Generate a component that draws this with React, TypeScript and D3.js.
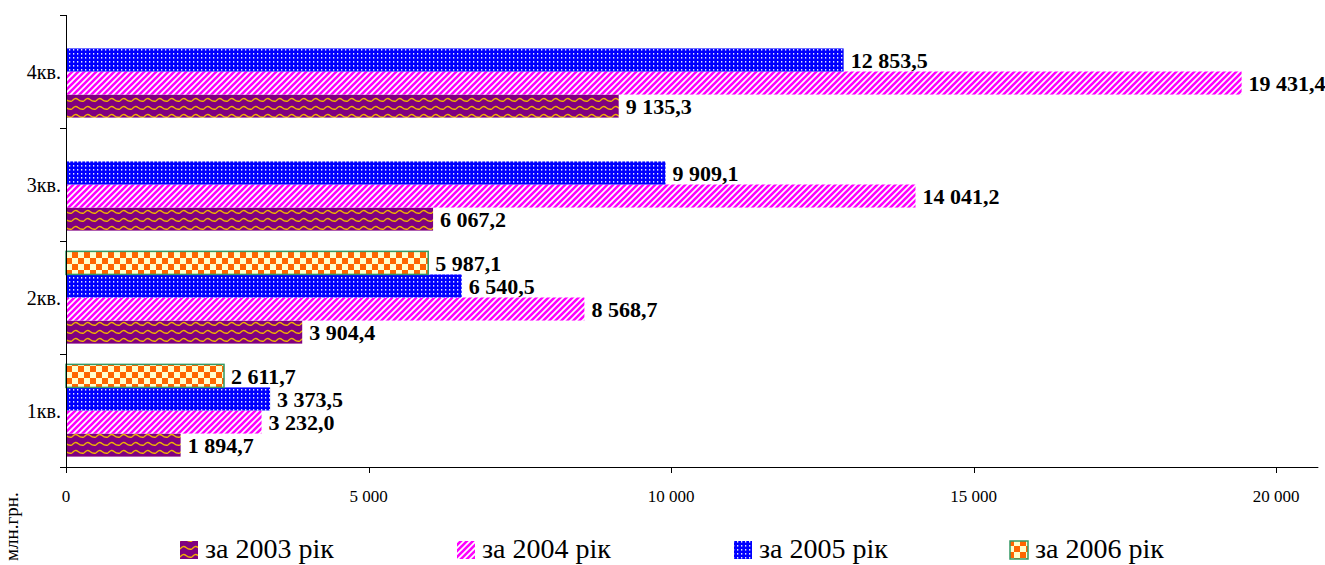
import * as d3 from 'd3'

const quarters = ['1кв.', '2кв.', '3кв.', '4кв.']
const years = ['2003', '2004', '2005', '2006']
const values2003 = [1894.7, 3904.4, 6067.2, 9135.3]
const values2004 = [3232.0, 8568.7, 14041.2, 19431.4]
const values2005 = [3373.5, 6540.5, 9909.1, 12853.5]
const values2006: (number | null)[] = [2611.7, 5987.1, null, null]
const xTicks = [0, 5000, 10000, 15000, 20000]

const seriesValues = [values2003, values2004, values2005, values2006]
const patternIds = ['pat2003', 'pat2004', 'pat2005', 'pat2006']
const legendX = [180, 457, 734, 1010]

const SERIF = 'Liberation Serif, Times New Roman, serif'

const fmt = (v: number) => {
  const [int, dec] = v.toFixed(1).split('.')
  const withSpaces = int.replace(/\B(?=(\d{3})+(?!\d))/g, ' ')
  return `${withSpaces},${dec}`
}
const fmtTick = (v: number) => String(v).replace(/\B(?=(\d{3})+(?!\d))/g, ' ')

export default function App() {
  const width = 1325
  const height = 565

  const x = d3.scaleLinear().domain([0, 20000]).range([66, 1276])
  const y = d3.scaleBand().domain([...quarters].reverse()).range([15, 467])
  const inner = d3.scaleBand().domain([...years].reverse()).range([0, y.bandwidth()])
    .paddingOuter(0.45).align(0.5)
  const bh = inner.bandwidth()

  const yEdges = [...quarters.map(q => y(q) || 0), 467]

  return (
    <svg
      width={width}
      height={height}
      style={{ position: 'absolute', left: 0, top: 0, background: '#fff' }}
    >
      <defs>
        {/* 2003: purple with gold waves */}
        <pattern id="pat2003" patternUnits="userSpaceOnUse" width={12} height={8}>
          <rect width={12} height={8} fill="#800080" />
          <path d="M0,5 Q3,1 6,3.5 T12,5" fill="none" stroke="#f0b400" strokeWidth={1.4} />
        </pattern>
        {/* 2004: magenta diagonal stripes */}
        <pattern id="pat2004" patternUnits="userSpaceOnUse" width={6} height={6}>
          <rect width={6} height={6} fill="#ffffff" />
          <path d="M-1,7 L7,-1 M-4,4 L2,-2 M4,8 L10,2" stroke="#ff00ff" strokeWidth={2.6} />
        </pattern>
        {/* 2005: blue with light dots */}
        <pattern id="pat2005" patternUnits="userSpaceOnUse" width={4} height={4}>
          <rect width={4} height={4} fill="#0000ff" />
          <rect x={1} y={1} width={1.3} height={1.6} fill="#e6e6ff" />
        </pattern>
        {/* 2006: orange checkerboard */}
        <pattern id="pat2006" patternUnits="userSpaceOnUse" width={12} height={12}>
          <rect width={12} height={12} fill="#ffffcc" />
          <rect width={6} height={6} fill="#ff6600" />
          <rect x={6} y={6} width={6} height={6} fill="#ff6600" />
        </pattern>
      </defs>

      <g>
        {quarters.map((q, qi) =>
          years.map((yr, si) => {
            const v = seriesValues[si][qi]
            if (v == null) return null
            const by = (y(q) || 0) + (inner(yr) || 0)
            return (
              <g key={q + yr}>
                <rect
                  x={x(0)}
                  y={by}
                  width={x(v) - x(0)}
                  height={bh}
                  fill={`url(#${patternIds[si]})`}
                  stroke={si === 3 ? '#339966' : 'none'}
                  strokeWidth={si === 3 ? 1.5 : 0}
                />
                <text
                  x={x(v) + 7}
                  y={by + bh / 2 + 8}
                  fontFamily={SERIF}
                  fontWeight="bold"
                  fontSize={22}
                  fill="#000"
                >
                  {fmt(v)}
                </text>
              </g>
            )
          })
        )}
      </g>

      {/* y axis */}
      <g stroke="#000" strokeWidth={1}>
        <line x1={66.5} x2={66.5} y1={15} y2={467} />
        {yEdges.map(t => (
          <line key={t} x1={60} x2={66.5} y1={Math.round(t) + 0.5} y2={Math.round(t) + 0.5} />
        ))}
      </g>
      {quarters.map(q => (
        <text
          key={q}
          x={61}
          y={(y(q) || 0) + y.bandwidth() / 2 + 7}
          textAnchor="end"
          fontFamily={SERIF}
          fontSize={20}
        >
          {q}
        </text>
      ))}

      {/* x axis */}
      <g stroke="#000">
        <line x1={66} x2={x(20700)} y1={467.5} y2={467.5} />
        {xTicks.map(t => (
          <line key={t} x1={Math.round(x(t)) + 0.5} x2={Math.round(x(t)) + 0.5} y1={467} y2={473} />
        ))}
      </g>
      {xTicks.map(t => (
        <text key={t} x={x(t)} y={502} textAnchor="middle" fontFamily={SERIF} fontSize={17}>
          {fmtTick(t)}
        </text>
      ))}

      <text transform="translate(18,561) rotate(-90)" fontFamily={SERIF} fontSize={19}>
        млн.грн.
      </text>

      {/* legend */}
      {years.map((yr, i) => (
        <g key={yr}>
          <rect
            x={legendX[i]}
            y={541}
            width={18}
            height={18}
            fill={`url(#${patternIds[i]})`}
            stroke={i === 3 ? '#339966' : 'none'}
            strokeWidth={i === 3 ? 1.5 : 0}
          />
          <text x={legendX[i] + 25} y={558} fontFamily={SERIF} fontSize={28}>
            {`за ${yr} рік`}
          </text>
        </g>
      ))}
    </svg>
  )
}
